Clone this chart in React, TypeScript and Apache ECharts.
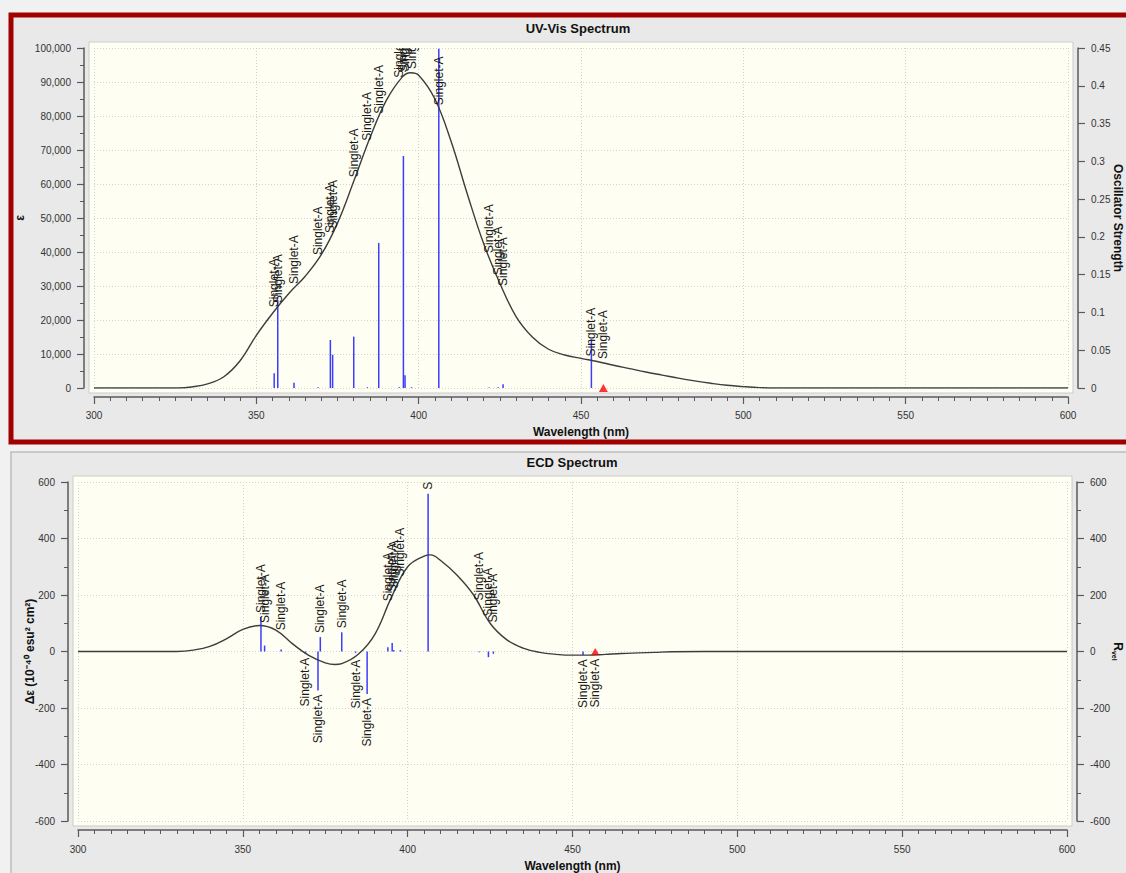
import React, { useEffect, useRef } from "react";
import * as echarts from "echarts";

// ---- data ----
const STATE_LABEL = "Singlet-A";
const WAVELENGTHS = [355.5, 356.6, 361.6, 369.0, 372.8, 373.5, 380.0, 384.2, 387.7, 394.0, 395.3, 395.8, 397.8, 406.2, 421.7, 424.5, 426.0, 453.2, 456.9];
const OSC_STRENGTH = [0.0195, 0.116, 0.007, 0.001, 0.0635, 0.044, 0.068, 0.001, 0.192, 0.001, 0.307, 0.017, 0.001, 0.449, 0.0005, 0.001, 0.005, 0.0645, 0];
const R_VEL = [122, 21, 7, -8, -138, 51, 68, -5, -150, 15, 30, 5, 5, 558, -3, -20, -8, -12, 0];
const MARKER_WL = 456.9;

const UV_X = [300, 320, 326, 330, 335, 340, 345, 350, 355, 360, 365, 370, 375, 380, 385, 390, 395, 397.5, 400, 405, 410, 415, 420, 425, 430, 435, 440, 445, 450, 455, 460, 465, 470, 475, 480, 485, 490, 495, 500, 505, 510, 600];
const UV_EPS = [0, 0, 0, 300, 1200, 3300, 8000, 15500, 22000, 27800, 32800, 39200, 48500, 60800, 73600, 84500, 91500, 92700, 92000, 85000, 72500, 57000, 42500, 30800, 21000, 15000, 11400, 9700, 8700, 7800, 6700, 5700, 4700, 3800, 2900, 2100, 1400, 800, 400, 100, 0, 0];

const ECD_X = [300, 330, 335, 340, 345, 350, 355, 360, 365, 370, 375, 378, 380, 385, 390, 395, 400, 405, 407, 410, 415, 420, 425, 430, 435, 440, 445, 450, 455, 460, 465, 470, 475, 480, 490, 600];
const ECD_DE = [0, 0, 5, 18, 45, 78, 92, 76, 28, -14, -40, -46, -43, -10, 60, 190, 300, 338, 342, 322, 270, 200, 100, 42, 12, -3, -10, -13, -13, -10, -7, -5, -3, -1, 0, 0];

const FONT = "Liberation Sans, Arial, Helvetica, sans-serif";

function interp(xs: number[], ys: number[], x: number) {
  for (let i = 0; i < xs.length - 1; i++) {
    if (x >= xs[i] && x <= xs[i + 1]) {
      const t = (x - xs[i]) / (xs[i + 1] - xs[i]);
      return ys[i] + t * (ys[i + 1] - ys[i]);
    }
  }
  return 0;
}

const AXIS_COLOR = "#5a5a5a";

function xAxisOpt(gridIndex: number, nameGap: number, margin: number) {
  return {
    type: "value",
    gridIndex,
    min: 300,
    max: 600,
    interval: 50,
    position: "bottom",
    offset: 9,
    name: "Wavelength (nm)",
    nameLocation: "middle",
    nameGap,
    nameMoveOverlap: false,
    nameTextStyle: { fontWeight: "bold", fontSize: 12, color: "#111", fontFamily: FONT },
    axisLine: { show: true, onZero: false, lineStyle: { color: AXIS_COLOR, width: 1.5 } },
    axisTick: { show: true, length: 7, lineStyle: { color: AXIS_COLOR, width: 1.2 } },
    minorTick: { show: true, splitNumber: 10, length: 4, lineStyle: { color: AXIS_COLOR, width: 1 } },
    axisLabel: { margin, fontSize: 10, color: "#333", fontFamily: FONT },
    splitLine: { show: true, lineStyle: { color: "#d2d2d2", type: [1, 2], width: 1 } },
  };
}

function yAxisOpt(o: any) {
  return {
    type: "value",
    nameLocation: "middle",
    nameMoveOverlap: false,
    axisLine: { show: true, onZero: false, lineStyle: { color: AXIS_COLOR, width: 1.5 } },
    axisTick: { show: true, length: 7, lineStyle: { color: AXIS_COLOR, width: 1.2 } },
    axisLabel: { margin: 13, fontSize: 10, color: "#333", fontFamily: FONT },
    nameTextStyle: { fontWeight: "bold", fontSize: 12, color: "#111", fontFamily: FONT },
    offset: 10,
    ...o,
  };
}

function stickSeries(xAxisIndex: number, yAxisIndex: number, values: number[]) {
  return {
    type: "custom",
    xAxisIndex,
    yAxisIndex,
    clip: true,
    z: 3,
    data: WAVELENGTHS.map((w, i) => [w, values[i]]),
    renderItem: (params: any, api: any) => {
      const p0 = api.coord([api.value(0), 0]);
      const p1 = api.coord([api.value(0), api.value(1)]);
      return {
        type: "line",
        shape: { x1: p0[0], y1: p0[1], x2: p1[0], y2: p1[1] },
        style: { stroke: "#3c3cff", lineWidth: 1.5 },
      };
    },
  };
}

function labelSeries(xAxisIndex: number, yAxisIndex: number, data: number[][]) {
  return {
    type: "custom",
    xAxisIndex,
    yAxisIndex,
    clip: true,
    z: 5,
    data,
    renderItem: (params: any, api: any) => {
      const p = api.coord([api.value(0), api.value(1)]);
      const dir = api.value(2);
      return {
        type: "text",
        x: p[0],
        y: p[1] - dir * 4,
        rotation: Math.PI / 2,
        style: {
          text: STATE_LABEL,
          font: `12px ${FONT}`,
          fill: "#1a1a1a",
          align: dir > 0 ? "left" : "right",
          verticalAlign: "middle",
        },
      };
    },
  };
}

export default function App() {
  const ref = useRef<HTMLDivElement>(null);
  useEffect(() => {
    if (!ref.current) return;
    const chart = echarts.init(ref.current, undefined, { renderer: "svg" });

    const uvLabelData = WAVELENGTHS.map((w) => [w, interp(UV_X, UV_EPS, w), 1]);
    const ecdLabelData = WAVELENGTHS.map((w, i) => {
      const c = interp(ECD_X, ECD_DE, w);
      const r = R_VEL[i];
      const up = c + r >= 0;
      return [w, up ? Math.max(c, r) : Math.min(c, r), up ? 1 : -1];
    });

    const option: any = {
      animation: false,
      backgroundColor: "#f1f1f1",
      graphic: [
        { type: "rect", z: -20, silent: true, shape: { x: 11, y: 15, width: 1122, height: 427 }, style: { fill: "#e9e9e9", stroke: "#a00000", lineWidth: 5 } },
        { type: "rect", z: -20, silent: true, shape: { x: 11, y: 452, width: 1122, height: 430 }, style: { fill: "#e9e9e9", stroke: "#bdbdbd", lineWidth: 1.5 } },
        { type: "rect", z: -10, silent: true, shape: { x: 89, y: 42, width: 984, height: 351 }, style: { fill: "#fefef2", stroke: "#cccccc", lineWidth: 1 } },
        { type: "rect", z: -10, silent: true, shape: { x: 73, y: 476, width: 999, height: 350 }, style: { fill: "#fefef2", stroke: "#cccccc", lineWidth: 1 } },
        { type: "text", z: 10, silent: true, x: 578, y: 28, style: { text: "UV-Vis Spectrum", font: `bold 13px ${FONT}`, fill: "#111", align: "center", verticalAlign: "middle" } },
        { type: "text", z: 10, silent: true, x: 572, y: 462, style: { text: "ECD Spectrum", font: `bold 13px ${FONT}`, fill: "#111", align: "center", verticalAlign: "middle" } },
      ],
      grid: [
        { left: 94, right: 58, top: 48, height: 340, containLabel: false, outerBoundsMode: "none" },
        { left: 78, right: 59, top: 482, height: 339, containLabel: false, outerBoundsMode: "none" },
      ],
      xAxis: [xAxisOpt(0, 29, 13), xAxisOpt(1, 30, 14)],
      yAxis: [
        yAxisOpt({
          gridIndex: 0, position: "left", min: 0, max: 100000, interval: 10000,
          name: "ε", nameGap: 58, nameRotate: 90,
          minorTick: { show: true, splitNumber: 2, length: 4, lineStyle: { color: AXIS_COLOR, width: 1 } },
          axisLabel: { margin: 13, fontSize: 10, color: "#333", fontFamily: FONT, formatter: (v: number) => v.toLocaleString("en-US") },
          splitLine: { show: true, lineStyle: { color: "#d2d2d2", type: [1, 2], width: 1 } },
        }),
        yAxisOpt({
          gridIndex: 0, position: "right", min: 0, max: 0.45, interval: 0.05,
          name: "Oscillator Strength", nameGap: 34, nameRotate: -90,
          splitLine: { show: false },
        }),
        yAxisOpt({
          gridIndex: 1, position: "left", min: -600, max: 600, interval: 200,
          name: "Δε (10⁻⁴⁰ esu² cm²)", nameGap: 32, nameRotate: 90,
          minorTick: { show: true, splitNumber: 2, length: 4, lineStyle: { color: AXIS_COLOR, width: 1 } },
          splitLine: { show: true, lineStyle: { color: "#d2d2d2", type: [1, 2], width: 1 } },
        }),
        yAxisOpt({
          gridIndex: 1, position: "right", min: -600, max: 600, interval: 200,
          name: "{r|R}{s|vel}", nameGap: 34, nameRotate: -90,
          nameTextStyle: {
            fontWeight: "bold", fontSize: 12, color: "#111", fontFamily: FONT,
            rich: {
              r: { fontWeight: "bold", fontSize: 12, color: "#111", fontFamily: FONT },
              s: { fontWeight: "bold", fontSize: 7, color: "#111", fontFamily: FONT, padding: [6, 0, 0, 0] },
            },
          },
          minorTick: { show: true, splitNumber: 2, length: 4, lineStyle: { color: AXIS_COLOR, width: 1 } },
          splitLine: { show: false },
        }),
      ],
      series: [
        stickSeries(0, 1, OSC_STRENGTH),
        {
          type: "line", xAxisIndex: 0, yAxisIndex: 0, smooth: 0.4, showSymbol: false, z: 4,
          data: UV_X.map((x, i) => [x, UV_EPS[i]]),
          lineStyle: { color: "#3d3d3d", width: 1.4 },
        },
        labelSeries(0, 0, uvLabelData),
        {
          type: "scatter", xAxisIndex: 0, yAxisIndex: 0, symbol: "triangle", symbolSize: [9, 8], z: 6,
          data: [[MARKER_WL, 0]], itemStyle: { color: "#ff0000" },
        },
        stickSeries(1, 3, R_VEL),
        {
          type: "line", xAxisIndex: 1, yAxisIndex: 2, smooth: 0.4, showSymbol: false, z: 4,
          data: ECD_X.map((x, i) => [x, ECD_DE[i]]),
          lineStyle: { color: "#3d3d3d", width: 1.4 },
        },
        labelSeries(1, 2, ecdLabelData),
        {
          type: "scatter", xAxisIndex: 1, yAxisIndex: 2, symbol: "triangle", symbolSize: [8, 7], z: 6,
          data: [[MARKER_WL, 0]], itemStyle: { color: "#ff0000" },
        },
      ],
    };
    chart.setOption(option);
    return () => chart.dispose();
  }, []);
  return <div ref={ref} style={{ position: "fixed", left: 0, top: 0, width: 1126, height: 873 }} />;
}
